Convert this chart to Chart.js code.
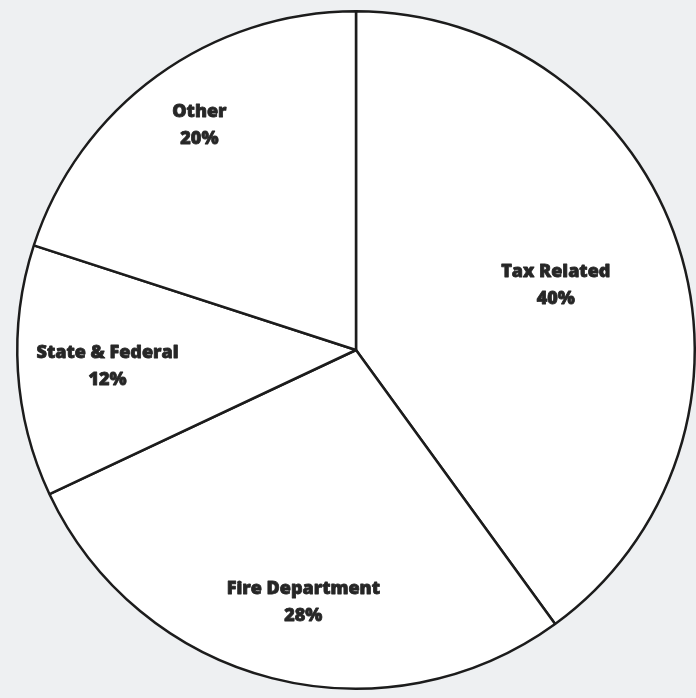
<!DOCTYPE html>
<html>
<head>
<meta charset="utf-8">
<script src="https://cdn.jsdelivr.net/npm/chart.js@4"></script>
<style>
  html, body { margin: 0; padding: 0; background: #eef0f2; }
  canvas { display: block; }
</style>
</head>
<body>
<canvas id="pieChart" width="696" height="698"></canvas>
<script>
const categories = ["Tax Related", "Fire Department", "State & Federal", "Other"];
const shares = [40, 28, 12, 20];

// label placement: fraction of the radius, and a small turn (degrees) off the slice middle
const labelRadius = [0.62, 0.76, 0.735, 0.81];
const labelTurn = [0, -2.6, 0, 1.2];

const sliceLabels = {
  id: "sliceLabels",
  afterDatasetsDraw(chart) {
    const ctx = chart.ctx;
    const arcs = chart.getDatasetMeta(0).data;
    ctx.save();
    ctx.font = "800 18px 'Open Sans'";
    ctx.fillStyle = "#262626";
    ctx.strokeStyle = "#262626";
    ctx.lineWidth = 0.8;
    ctx.lineJoin = "round";
    ctx.textAlign = "center";
    ctx.textBaseline = "middle";
    arcs.forEach((arc, i) => {
      const { x, y, startAngle, endAngle, outerRadius } = arc.getProps(
        ["x", "y", "startAngle", "endAngle", "outerRadius"], true
      );
      const mid = (startAngle + endAngle) / 2 + labelTurn[i] * Math.PI / 180;
      const r = outerRadius * labelRadius[i];
      const lx = x + Math.cos(mid) * r;
      const ly = y + Math.sin(mid) * r;
      [categories[i], shares[i] + "%"].forEach((line, k) => {
        const ty = ly - 13 + k * 27;
        ctx.strokeText(line, lx, ty);
        ctx.fillText(line, lx, ty);
      });
    });
    ctx.restore();
  }
};

new Chart(document.getElementById("pieChart").getContext("2d"), {
  type: "pie",
  data: {
    labels: categories,
    datasets: [
      {
        data: shares,
        backgroundColor: "#ffffff",
        borderColor: "#1c1c1c",
        borderWidth: 2.5
      }
    ]
  },
  options: {
    responsive: false,
    animation: false,
    layout: { padding: { left: 16, right: 0, top: 10, bottom: 8 } },
    plugins: {
      legend: { display: false },
      tooltip: { enabled: false }
    }
  },
  plugins: [sliceLabels]
});
</script>
</body>
</html>
